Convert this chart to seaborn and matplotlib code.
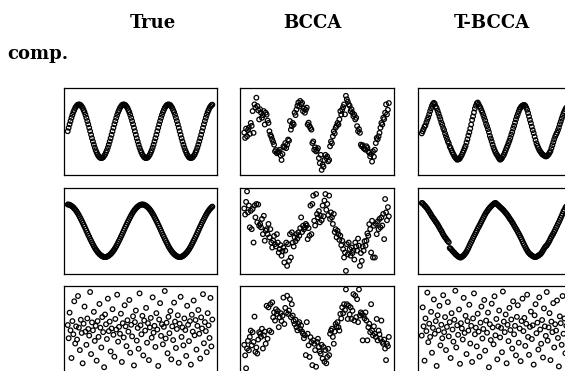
import numpy as np
import pandas as pd
import matplotlib
matplotlib.use("Agg")
import matplotlib.pyplot as plt
import seaborn as sns

# ---------------- data ----------------
col_titles = ["True", "BCCA", "T-BCCA"]
row_label = "comp."

true_c1 = [
    0, .13, .26, .38, .5, .61, .71, .79, .87, .92, .97, .99, 1, .99, .97, .92, .87, .79, .71, .61, .5, .38, .26, .13,
    0, -.13, -.26, -.38, -.5, -.61, -.71, -.79, -.87, -.92, -.97, -.99, -1, -.99, -.97, -.92, -.87, -.79, -.71, -.61, -.5, -.38, -.26, -.13,
    0, .13, .26, .38, .5, .61, .71, .79, .87, .92, .97, .99, 1, .99, .97, .92, .87, .79, .71, .61, .5, .38, .26, .13,
    0, -.13, -.26, -.38, -.5, -.61, -.71, -.79, -.87, -.92, -.97, -.99, -1, -.99, -.97, -.92, -.87, -.79, -.71, -.61, -.5, -.38, -.26, -.13,
    0, .13, .26, .38, .5, .61, .71, .79, .87, .92, .97, .99, 1, .99, .97, .92, .87, .79, .71, .61, .5, .38, .26, .13,
    0, -.13, -.26, -.38, -.5, -.61, -.71, -.79, -.87, -.92, -.97, -.99, -1, -.99, -.97, -.92, -.87, -.79, -.71, -.61, -.5, -.38, -.26, -.13,
    0, .13, .26, .38, .5, .61, .71, .79, .87, .92, .97, .99,
]

true_c2 = [
    1, 1, .99, .97, .95, .92, .89, .85, .81, .76, .71, .65, .59, .52, .45, .38, .31, .23, .16, .08, 0,
    -.08, -.16, -.23, -.31, -.38, -.45, -.52, -.59, -.65, -.71, -.76, -.81, -.85, -.89, -.92, -.95, -.97, -.99, -1, -1,
    -1, -.99, -.97, -.95, -.92, -.89, -.85, -.81, -.76, -.71, -.65, -.59, -.52, -.45, -.38, -.31, -.23, -.16, -.08, 0,
    .08, .16, .23, .31, .38, .45, .52, .59, .65, .71, .76, .81, .85, .89, .92, .95, .97, .99, 1,
    1, 1, .99, .97, .95, .92, .89, .85, .81, .76, .71, .65, .59, .52, .45, .38, .31, .23, .16, .08, 0,
    -.08, -.16, -.23, -.31, -.38, -.45, -.52, -.59, -.65, -.71, -.76, -.81, -.85, -.89, -.92, -.95, -.97, -.99, -1, -1,
    -1, -.99, -.97, -.95, -.92, -.89, -.85, -.81, -.76, -.71, -.65, -.59, -.52, -.45, -.38, -.31, -.23, -.16, -.08, 0,
    .08, .16, .23, .31, .38, .45, .52, .59, .65, .71, .76, .81, .85, .89, .92,
]

true_c3 = [
    0.15, -0.35, 0.62, -0.05, -1.10, 0.30, -0.20, 1.05, -0.55, 0.10, -0.40, 1.25,
    0.05, -0.80, 0.35, -0.15, -1.30, 0.20, 0.85, -0.10, -0.60, 0.40, 0.00, -0.25,
    1.40, -0.95, 0.25, -0.05, 0.65, -0.45, 0.12, -1.20, 0.30, -0.30, 0.95, 0.05,
    -0.70, 0.45, -0.12, -1.45, 0.55, 0.18, -0.38, 1.15, -0.08, 0.28, -0.85, 0.02,
    0.75, -0.22, -1.05, 0.38, -0.02, 1.30, -0.48, 0.08, -0.18, 0.58, -1.25, 0.22,
    -0.32, 0.90, 0.10, -0.65, 0.33, -0.10, 1.10, -0.90, 0.16, -0.28, 0.48, -1.38,
    0.26, 0.70, -0.44, 0.04, -0.75, 1.35, 0.14, -0.20, 0.50, -1.00, 0.32, -0.06,
    0.80, -0.52, 0.22, -1.18, 0.06, 0.42, -0.33, 1.20, -0.14, 0.12, -0.68, 0.60,
    -0.02, -1.40, 0.36, 0.98, -0.26, 0.18, -0.58, 0.08, 1.44, -0.36, 0.24, -0.92,
    0.46, -0.16, 0.68, -1.15, 0.10, -0.42, 1.00, 0.28, -0.72, 0.00, 0.52, -1.28,
    0.20, 1.22, -0.30, 0.06, -0.62, 0.40, -0.04, -1.02, 0.88, 0.16, -0.46, 0.30,
    -1.35, 0.54, -0.10, 1.08, -0.24, 0.34, -0.78, 0.12, 0.72, -0.18, -1.12, 0.44,
    0.02, 1.32, -0.54, 0.26, -0.08, -0.88, 0.60, 0.14, -0.34, 1.18, -0.66, 0.36,
]

bcca_c1 = [
    -0.05, -0.25, 0.10, -0.19, 0.05, 0.13, -0.10, 0.31, 0.20, 0.75, -0.06, 1.0,
    0.88, 1.25, 0.94, 0.78, 0.44, 0.82, 0.69, 0.50, 0.60, 0.75, 0.25, 0.69,
    0.62, 0.40, 0.31, 0.0, -0.13, -0.20, -0.31, -0.40, -0.50, -0.75, -0.70, -0.82,
    -0.78, -0.75, -0.69, -0.90, -1.07, -0.85, -0.56, -0.60, -0.44, -0.63, -0.50, -0.31,
    -0.35, 0.38, 0.06, 0.19, 0.31, 0.25, 0.69, 0.60, 0.81, 0.95, 1.07, 0.92,
    1.13, 1.0, 1.06, 0.75, 0.85, 0.69, 0.80, 0.88, 0.25, 0.32, 0.19, 0.12,
    0.06, -0.44, -0.38, -0.69, -0.60, -0.75, -0.70, -0.63, -1.0, -1.19, -0.88, -1.44,
    -1.25, -1.32, -1.07, -0.88, -1.0, -0.94, -1.12, -1.07, -0.56, -0.38, -0.45, -0.19,
    0.0, -0.08, 0.13, 0.20, 0.31, 0.25, 0.44, 0.75, 0.62, 0.81, 0.90, 1.0,
    0.63, 1.32, 1.19, 1.10, 1.0, 0.95, 0.75, 0.82, 0.69, 0.56, 0.62, 0.44,
    0.50, 0.19, 0.0, 0.08, -0.06, -0.50, -0.56, -0.52, -0.63, -0.66, -0.69, -0.56,
    -0.62, -0.75, -0.80, -0.94, -0.85, -1.13, -0.75, -0.95, -0.69, -0.44, -0.25, -0.30,
    -0.19, -0.06, 0.13, 0.31, 0.25, 0.50, 0.45, 0.69, 1.0, 0.63, 0.80, 1.05,
]

bcca_c2 = [
    0.85, 0.62, 1.10, 1.50, 0.70, 0.96, 0.13, 0.76, 0.06, 0.83, -0.45, 0.96,
    0.51, 1.02, 0.32, 1.0, 0.19, 0.26, 0.13, 0.45, -0.13, 0.57, -0.38, 0.0,
    0.06, -0.13, 0.26, -0.25, 0.06, -0.45, -0.64, -0.38, -0.20, -0.51, -0.60, -0.13,
    -0.45, -0.83, -0.70, -0.55, -0.95, -0.78, -0.64, -1.21, -0.76, -0.45, -1.34, -0.51,
    -1.15, -0.13, -1.02, -0.06, -0.45, -0.60, -0.25, -0.40, -0.13, -0.30, -0.06, -0.19,
    0.10, 0.51, -0.05, 0.19, 0.05, 0.13, 0.26, 0.20, -0.32, 0.10, -0.19, 0.96,
    -0.13, 1.02, 1.34, 0.38, 0.20, 1.40, 0.64, 0.51, 0.75, 0.32, 0.57, 0.40,
    0.96, 0.55, 1.15, 1.40, 0.80, 1.02, 0.60, 1.34, 0.45, 0.70, 0.51, 0.26,
    0.64, -0.05, 0.06, -0.25, 0.0, -0.13, -0.35, -0.19, -0.55, -0.38, -0.70, -1.02,
    -0.83, -1.53, -0.51, -0.90, -0.45, -0.70, -0.95, -0.64, -0.85, -0.76, -1.10, -0.45,
    -0.60, -0.76, -0.30, -0.57, -1.34, -0.85, -1.15, -0.60, -0.76, -0.40, -0.57, -0.38,
    -0.10, -0.19, 0.25, 0.06, -0.83, 0.38, -1.02, 0.19, -1.02, 0.26, -0.13, 0.35,
    0.06, 0.45, 0.13, 0.51, 0.20, 0.64, -0.32, 1.21, 0.70, 0.40, 0.90, 0.55,
]

bcca_c3 = [
    -0.60, -1.00, -1.49, -0.74, -0.45, -0.81, -0.30, -0.06, -0.62, -0.12, -0.49, 0.47,
    -0.87, -0.70, -0.93, -0.40, -0.12, -0.18, -0.30, 0.01, -0.74, -0.24, -0.10, -0.56,
    0.88, -0.37, 0.82, -0.06, 0.94, -0.12, 1.01, 0.44, 0.63, 0.32, 0.75, 0.57,
    0.68, 0.07, 0.44, 0.60, 0.30, 0.50, 1.19, 0.19, 0.80, 0.62, 1.26, 0.57,
    0.70, 1.13, 0.45, 0.94, 0.51, 0.30, 0.19, 0.35, 0.07, -0.05, 0.19, 0.26,
    0.0, 0.13, -0.10, -0.18, -0.35, -0.24, -0.99, 0.26, -0.18, -0.62, -1.06, -0.31,
    -0.50, -1.37, -0.43, -0.56, -0.80, -1.43, -0.49, -0.37, -0.68, -0.85, -0.93, -0.60,
    -1.12, -0.68, -1.24, -0.80, -1.30, -1.06, -0.75, -0.99, -0.18, -0.06, 0.01, -0.30,
    -0.56, -0.10, 0.19, 0.10, 0.26, 0.07, -0.06, 0.57, 0.40, 0.82, 0.60, 0.94,
    0.72, 1.50, 0.94, 0.38, 0.88, 0.55, 0.82, 0.38, 0.69, 1.32, 0.32, 1.26,
    0.45, 1.13, 0.26, 1.50, 0.51, 0.63, 0.57, -0.43, 0.51, 0.40, 0.63, 0.32,
    -0.43, 0.07, 0.20, -0.12, 0.94, -0.06, -0.24, 0.10, -0.18, -0.30, 0.38, -0.43,
    -0.06, -0.20, -0.37, 0.32, -0.49, -0.56, -0.40, -0.74, -1.18, -0.56, -0.65, -0.30,
]

tbcca_c1 = [
    -0.08, 0.0, 0.08, 0.17, 0.22, 0.33, 0.43, 0.52, 0.63, 0.75, 0.85, 0.95,
    1.02, 1.06, 1.02, 0.92, 0.86, 0.76, 0.66, 0.55, 0.45, 0.33, 0.24, 0.12,
    0.04, -0.08, -0.18, -0.28, -0.38, -0.45, -0.57, -0.63, -0.72, -0.80, -0.86, -0.93,
    -0.98, -1.02, -1.06, -1.05, -1.04, -1.0, -0.94, -0.88, -0.80, -0.72, -0.63, -0.55,
    -0.42, -0.30, -0.16, -0.04, 0.10, 0.25, 0.42, 0.55, 0.70, 0.85, 0.95, 1.04,
    1.07, 1.0, 0.93, 0.87, 0.78, 0.70, 0.60, 0.50, 0.40, 0.28, 0.19, 0.08,
    -0.03, -0.17, -0.27, -0.38, -0.50, -0.61, -0.70, -0.78, -0.85, -0.90, -0.96, -1.02,
    -1.06, -1.04, -1.0, -0.93, -0.88, -0.80, -0.71, -0.62, -0.54, -0.44, -0.35, -0.25,
    -0.13, -0.03, 0.10, 0.20, 0.32, 0.44, 0.55, 0.64, 0.74, 0.83, 0.88, 0.93,
    0.96, 0.97, 0.98, 0.95, 0.88, 0.80, 0.68, 0.55, 0.42, 0.30, 0.17, 0.04,
    -0.07, -0.20, -0.33, -0.45, -0.54, -0.62, -0.70, -0.75, -0.80, -0.85, -0.88, -0.90,
    -0.92, -0.94, -0.93, -0.90, -0.86, -0.80, -0.74, -0.63, -0.52, -0.41, -0.30, -0.20,
    -0.12, -0.05, 0.04, 0.14, 0.26, 0.36, 0.47, 0.57, 0.67, 0.75, 0.82, 0.88,
]

tbcca_c2 = [
    1.06, 1.05, 1.0, 0.96, 0.93, 0.88, 0.84, 0.78, 0.73, 0.67, 0.61, 0.55,
    0.50, 0.45, 0.40, 0.34, 0.30, 0.24, 0.18, 0.12, 0.05, 0.0, -0.07, -0.14,
    -0.20, -0.25, -0.30, -0.35, -0.40, -0.44, -0.66, -0.68, -0.73, -0.77, -0.81, -0.84,
    -0.89, -0.92, -0.95, -0.98, -1.0, -1.02, -1.02, -1.0, -0.97, -0.94, -0.90, -0.85,
    -0.80, -0.73, -0.66, -0.58, -0.50, -0.43, -0.36, -0.28, -0.21, -0.14, -0.07, 0.0,
    0.08, 0.14, 0.21, 0.28, 0.35, 0.42, 0.49, 0.56, 0.63, 0.69, 0.74, 0.79,
    0.84, 0.88, 0.92, 0.96, 0.99, 1.02, 1.05, 1.06, 1.04, 1.0, 0.97, 0.94,
    0.90, 0.87, 0.84, 0.80, 0.77, 0.72, 0.68, 0.64, 0.59, 0.54, 0.48, 0.43,
    0.38, 0.32, 0.27, 0.20, 0.14, 0.08, 0.02, -0.05, -0.11, -0.18, -0.25, -0.32,
    -0.40, -0.48, -0.55, -0.62, -0.69, -0.75, -0.81, -0.85, -0.89, -0.92, -0.94, -0.97,
    -0.99, -1.0, -1.0, -0.99, -0.97, -0.95, -0.92, -0.90, -0.86, -0.81, -0.75, -0.69,
    -0.63, -0.59, -0.56, -0.50, -0.44, -0.38, -0.30, -0.23, -0.17, -0.11, -0.04, 0.03,
    0.11, 0.18, 0.26, 0.33, 0.41, 0.49, 0.57, 0.65, 0.74, 0.80, 0.88, 0.93,
]

tbcca_c3 = [
    -0.25, 0.82, 0.10, -1.20, 0.40, -0.08, 1.38, -0.50, 0.20, -0.30, 0.65, -0.90,
    0.04, 1.12, -0.18, 0.30, -1.40, 0.52, -0.05, 0.88, -0.62, 0.16, -0.35, 1.28,
    -0.12, 0.45, -0.80, 0.08, 1.02, -0.28, 0.26, -1.10, 0.60, -0.02, -0.48, 0.35,
    1.45, -0.70, 0.14, -0.22, 0.74, -1.32, 0.22, 0.02, -0.40, 1.18, -0.15, 0.50,
    -0.95, 0.30, -0.06, 0.92, -0.55, 0.12, -1.25, 0.40, 1.35, -0.20, 0.05, -0.66,
    0.58, -0.10, -1.05, 0.24, 0.85, -0.36, 0.00, 1.10, -0.82, 0.32, -0.14, 0.62,
    -1.45, 0.18, -0.42, 0.96, 0.06, -0.58, 1.24, -0.24, 0.38, -1.15, 0.10, 0.70,
    -0.32, 0.04, -0.88, 1.42, 0.28, -0.12, 0.55, -1.30, 0.16, -0.46, 0.80, -0.04,
    0.36, -0.74, 1.05, -0.20, 0.12, -1.00, 0.46, 0.90, -0.52, 0.02, -1.22, 0.30,
    1.15, -0.08, 0.42, -0.64, 0.20, 1.30, -0.30, -0.98, 0.08, 0.66, -0.38, 0.14,
    -1.35, 0.52, 0.94, -0.16, 0.24, -0.78, 1.20, -0.02, -0.56, 0.34, -1.08, 0.78,
    0.10, -0.26, 1.40, -0.44, 0.06, 0.60, -1.18, 0.28, -0.12, 0.98, -0.70, 0.18,
    -0.06, 1.08, -0.34, -1.42, 0.48, 0.22, -0.60, 1.25, -0.18, 0.40, -0.92, 0.12,
]

grid = [
    [true_c1, bcca_c1, tbcca_c1],
    [true_c2, bcca_c2, tbcca_c2],
    [true_c3, bcca_c3, tbcca_c3],
]

# ---------------- figure ----------------
sns.set_theme(style="white")
plt.rcParams["font.family"] = ["DejaVu Serif"]
plt.rcParams["text.color"] = "black"

W, H = 565, 371
fig = plt.figure(figsize=(W / 100, H / 100), dpi=100)

col_left = [64, 240.5, 418]
col_w = 153
row_top = [87.5, 188, 286]
row_h = [87.5, 85.5, 86]

for r in range(3):
    for c in range(3):
        ax = fig.add_axes([col_left[c] / W, 1 - (row_top[r] + row_h[r]) / H,
                           col_w / W, row_h[r] / H])
        vals = grid[r][c]
        df = pd.DataFrame({"t": np.arange(len(vals)), "y": vals})
        sns.scatterplot(data=df, x="t", y="y", ax=ax, s=11, marker="o",
                        facecolors="none", edgecolor="black", linewidth=0.9,
                        legend=False)
        ax.set_xlim(-4, 160)
        ax.set_ylim(-1.63, 1.63)
        ax.set_xticks([])
        ax.set_yticks([])
        ax.set_xlabel("")
        ax.set_ylabel("")
        for sp in ax.spines.values():
            sp.set_visible(True)
            sp.set_color("black")
            sp.set_linewidth(0.9)

title_x = [153, 312, 492]
for tx, title in zip(title_x, col_titles):
    fig.text(tx / W, 1 - 28 / H, title, ha="center", va="baseline",
             fontsize=13, fontweight="bold", family="DejaVu Serif",
             color="black")
fig.text(7 / W, 1 - 59 / H, row_label, ha="left", va="baseline",
         fontsize=13, fontweight="bold", family="DejaVu Serif", color="black")

fig.savefig("out.png", dpi=100)
